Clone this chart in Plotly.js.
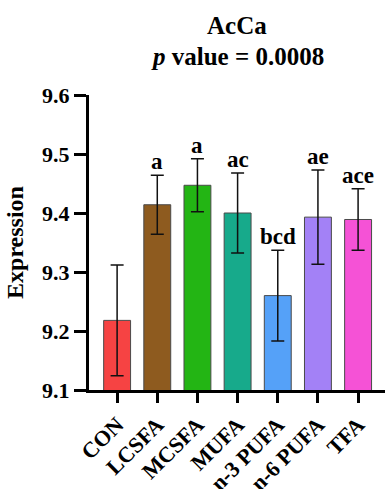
<!DOCTYPE html>
<html>
<head>
<meta charset="utf-8">
<script src="https://cdn.plot.ly/plotly-3.0.1.min.js"></script>
<style>html,body{margin:0;padding:0;background:#fff;}#chart{width:385px;height:489px;}</style>
</head>
<body>
<div id="chart"></div>
<script>
const categories = ["CON", "LCSFA", "MCSFA", "MUFA", "n-3 PUFA", "n-6 PUFA", "TFA"];
const means = [9.218, 9.414, 9.447, 9.400, 9.260, 9.393, 9.389];
const errors = [0.094, 0.050, 0.045, 0.068, 0.077, 0.080, 0.052];
const letters = ["", "a", "a", "ac", "bcd", "ae", "ace"];
const colors = ["#F64343", "#8E5B1F", "#23B514", "#17AA8B", "#55A1F8", "#A381F6", "#F552D6"];
const yTicks = [9.1, 9.2, 9.3, 9.4, 9.5, 9.6];
const titleLines = ["AcCa", "<i>p</i> value = 0.0008"];

const FONT = "Liberation Serif";

const trace = {
  type: "bar",
  x: categories,
  y: means,
  marker: { color: colors, line: { color: "#4a4a4a", width: 1 } },
  error_y: { type: "data", array: errors, visible: true, color: "#111", thickness: 1.5, width: 6.5 },
  hoverinfo: "none"
};

const annotations = categories.map((c, i) => ({
  x: c, y: means[i] + errors[i], xref: "x", yref: "y",
  text: letters[i] ? "<b>" + letters[i] + "</b>" : "",
  showarrow: false, yanchor: "bottom", yshift: -1,
  font: { family: FONT, size: 23, color: "#000" }
})).filter(a => a.text);

annotations.push({
  xref: "paper", yref: "paper", x: 0.5, y: 1.237, yanchor: "middle", xanchor: "center",
  text: "<b>" + titleLines[0] + "</b>", showarrow: false,
  font: { family: FONT, size: 25, color: "#000" }
});
annotations.push({
  xref: "paper", yref: "paper", x: 0.5, y: 1.13, yanchor: "middle", xanchor: "center",
  text: "<b>" + titleLines[1] + "</b>", showarrow: false,
  font: { family: FONT, size: 25, color: "#000" }
});

const layout = {
  width: 385, height: 489,
  margin: { l: 89, r: 0, t: 95, b: 99 },
  paper_bgcolor: "#fff", plot_bgcolor: "#fff",
  showlegend: false,
  bargap: 0.33,
  font: { family: FONT, color: "#000" },
  xaxis: {
    type: "category",
    range: [-0.7, 6.67],
    showline: true, linecolor: "#000", linewidth: 3,
    ticks: "outside", ticklen: 10, tickwidth: 3, tickcolor: "#000",
    tickangle: -45,
    tickfont: { family: FONT, size: 22, color: "#000", weight: "bold" },
    showgrid: false, zeroline: false, fixedrange: true
  },
  yaxis: {
    range: [9.1, 9.6],
    tickvals: yTicks,
    ticktext: yTicks.map(v => "<b>" + v.toFixed(1) + "</b>"),
    showline: true, linecolor: "#000", linewidth: 3,
    ticks: "outside", ticklen: 12, tickwidth: 3, tickcolor: "#000",
    tickfont: { family: FONT, size: 22, color: "#000" },
    showgrid: false, zeroline: false, fixedrange: true,
    title: { text: "<b>Expression</b>", standoff: 12, font: { family: FONT, size: 24, color: "#000" } }
  },
  annotations: annotations
};

Plotly.newPlot("chart", [trace], layout, { displayModeBar: false, staticPlot: true });
</script>
</body>
</html>
